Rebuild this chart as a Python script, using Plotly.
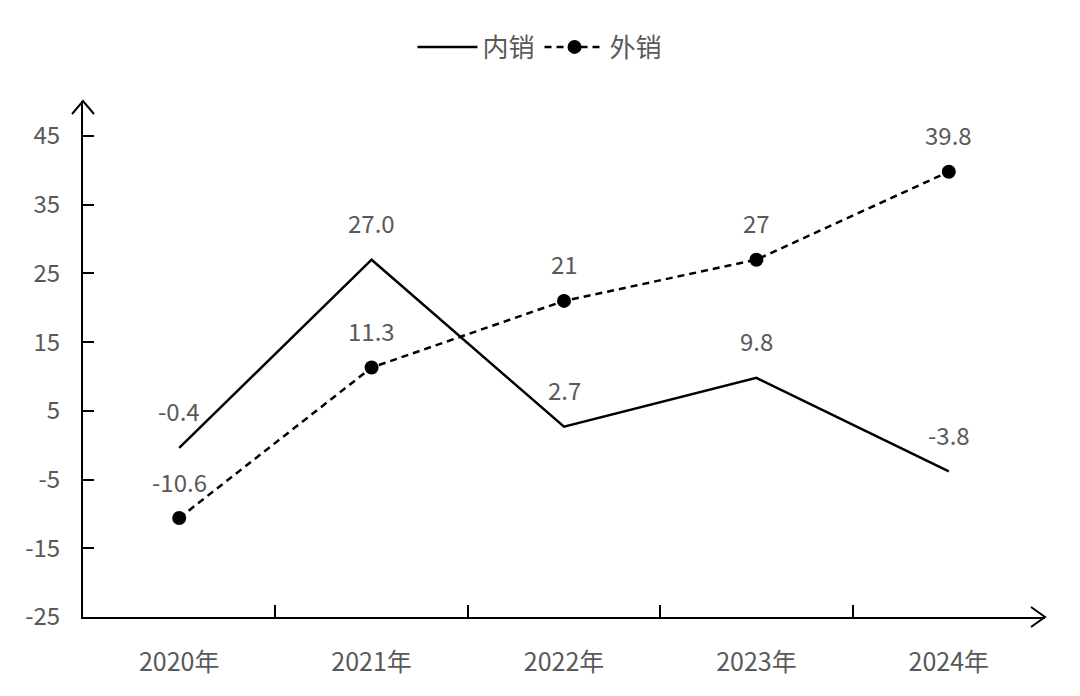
import plotly.graph_objects as go

categories = ["2020年", "2021年", "2022年", "2023年", "2024年"]
domestic = [-0.4, 27.0, 2.7, 9.8, -3.8]
domestic_labels = ["-0.4", "27.0", "2.7", "9.8", "-3.8"]
export = [-10.6, 11.3, 21, 27, 39.8]
export_labels = ["-10.6", "11.3", "21", "27", "39.8"]
y_ticks = [-25, -15, -5, 5, 15, 25, 35, 45]
y_tick_text = ["-25", "-15", "-5", "5", "15", "25", "35", "45"]

FONT = "Noto Sans CJK SC"
GREY = "#595959"
xs = list(range(len(categories)))

fig = go.Figure()
fig.add_trace(go.Scatter(x=xs, y=domestic, name="内销", mode="lines",
                         line=dict(color="black", width=2.5)))
fig.add_trace(go.Scatter(x=xs, y=export, name="外销", mode="lines+markers",
                         line=dict(color="black", width=2.5, dash="7px,5px"),
                         marker=dict(color="black", size=14)))

for vals, labs in ((domestic, domestic_labels), (export, export_labels)):
    for x, v, t in zip(xs, vals, labs):
        fig.add_annotation(x=x, y=v, text=t, showarrow=False, yshift=37,
                           font=dict(family=FONT, size=24, color=GREY))

W, H = 962, 516
shapes = []
# y-axis arrow
shapes.append(dict(type="path", xref="paper", yref="paper",
                   path=f"M {-11/W} {1-13/H} L 0 1 L {11/W} {1-13/H}",
                   line=dict(color="black", width=2)))
# x-axis arrow
shapes.append(dict(type="path", xref="paper", yref="paper",
                   path=f"M {1-14/W} {10/H} L 1 0 L {1-14/W} {-10/H}",
                   line=dict(color="black", width=2)))
fig.update_layout(shapes=shapes)

top = 45 + 35 / (481 / 70)
fig.update_layout(
    width=1080, height=696,
    margin=dict(l=83, r=35, t=101, b=79),
    plot_bgcolor="white", paper_bgcolor="white",
    font=dict(family=FONT, size=24, color=GREY),
    showlegend=True,
    legend=dict(orientation="h", xref="container", yref="container",
                x=0.5, xanchor="center", y=1 - 47 / 696, yanchor="middle",
                font=dict(size=26, color=GREY), itemwidth=60),
    xaxis=dict(range=[-0.5, 4.5], tickvals=xs, ticktext=categories,
               showgrid=False, zeroline=False, showline=True,
               linecolor="black", linewidth=2, ticks="",
               tickfont=dict(size=25), ticklabelstandoff=22),
    xaxis2=dict(range=[-0.5, 4.5], overlaying="x", side="bottom",
                tickvals=[0.5, 1.5, 2.5, 3.5], ticks="inside", ticklen=12,
                tickwidth=2, tickcolor="black", showticklabels=False,
                showgrid=False, zeroline=False, showline=False),
    yaxis=dict(range=[-25, top], tickvals=y_ticks, ticktext=y_tick_text,
               showgrid=False, tickfont=dict(size=24),
               zeroline=False, showline=True, linecolor="black", linewidth=2,
               ticks="inside", ticklen=11, tickwidth=2, tickcolor="black",
               ticklabelstandoff=16),
)
# dummy trace to activate xaxis2
fig.add_trace(go.Scatter(x=[0], y=[None], xaxis="x2", showlegend=False,
                         hoverinfo="skip"))

fig.write_html("out.html")
